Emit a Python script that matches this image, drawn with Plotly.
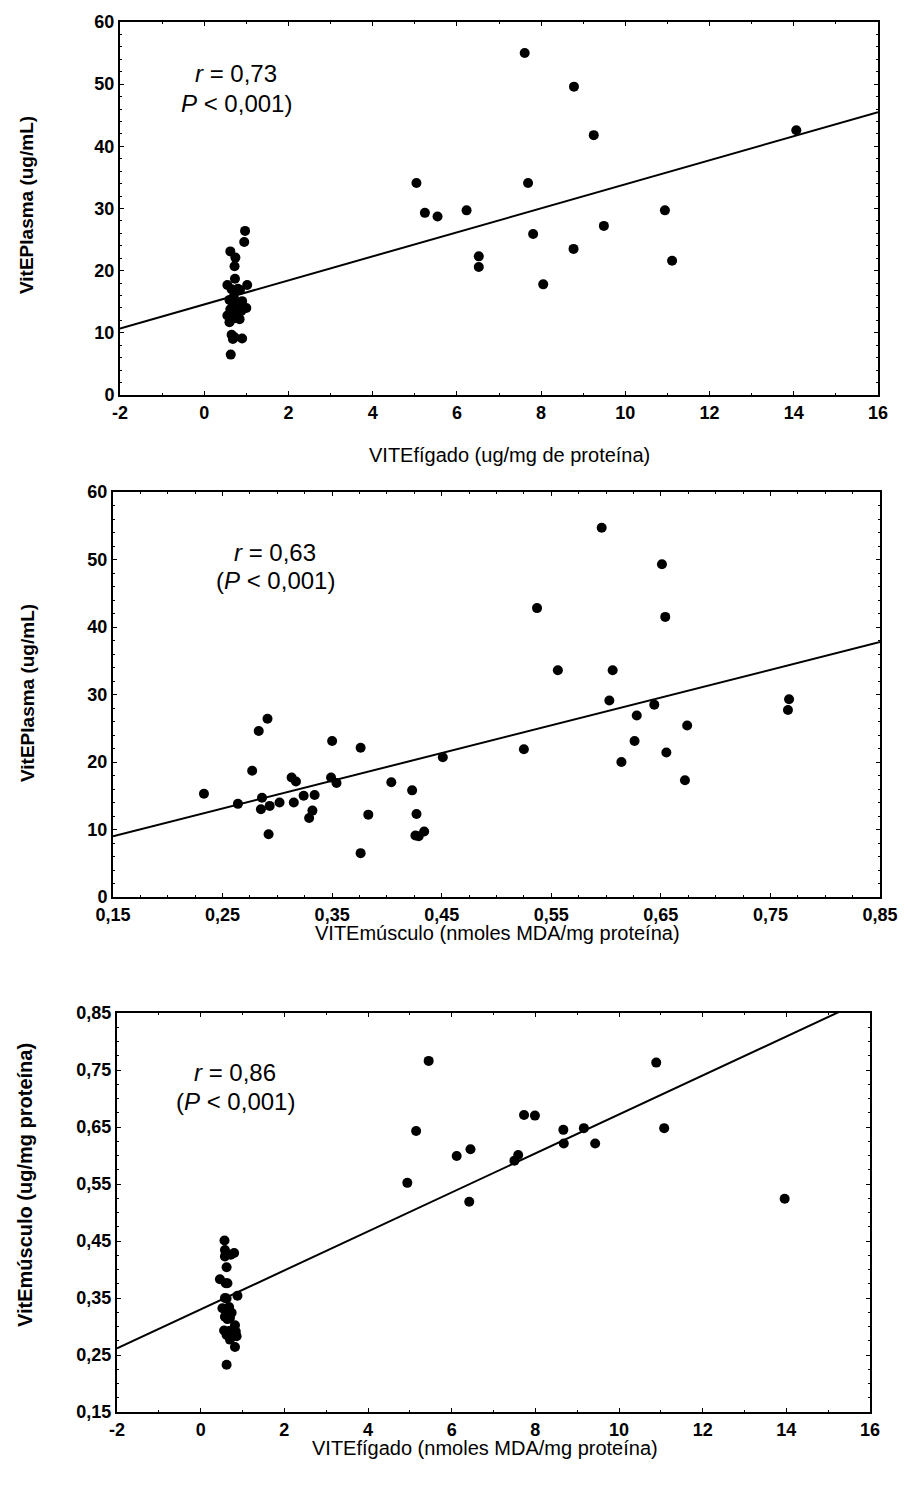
import plotly.graph_objects as go

W, H = 908, 1488
OFF = 8  # page body margin in the browser

# ---------- Panel 1: VITEfígado (ug/mg) vs VitEPlasma ----------
p1_x = [0.97, 0.95, 0.62, 0.74, 0.72, 0.73, 0.55, 1.02, 0.80, 0.65, 0.85, 0.70, 0.60, 0.90, 0.75,
        0.68, 0.82, 1.00, 0.62, 0.88, 0.78, 0.55, 0.70, 0.84, 0.60, 0.65, 0.72, 0.90, 0.68, 0.63,
        7.61, 8.78, 9.25, 5.04, 7.69, 5.24, 5.54, 6.23, 10.94, 7.81, 9.49, 6.52, 6.52, 8.77, 8.05, 11.11, 14.06]
p1_y = [26.4, 24.6, 23.1, 22.1, 20.7, 18.7, 17.7, 17.7, 17.1, 17.0, 16.9, 15.8, 15.3, 15.1, 15.0,
        14.7, 14.0, 14.0, 13.8, 13.5, 13.0, 12.8, 12.3, 12.2, 11.7, 9.7, 9.3, 9.1, 9.0, 6.5,
        55.0, 49.6, 41.8, 34.1, 34.1, 29.3, 28.7, 29.7, 29.7, 25.9, 27.2, 22.3, 20.6, 23.5, 17.8, 21.6, 42.6]
p1_fit = [14.57, 1.933]   # intercept, slope
p1_xrange = [-2, 16]
p1_yrange = [0, 60]
p1_xticks = [-2, 0, 2, 4, 6, 8, 10, 12, 14, 16]
p1_xlabels = ["-2", "0", "2", "4", "6", "8", "10", "12", "14", "16"]
p1_yticks = [0, 10, 20, 30, 40, 50, 60]
p1_ylabels = ["0", "10", "20", "30", "40", "50", "60"]

# ---------- Panel 2: VITEmúsculo vs VitEPlasma ----------
p2_x = [0.233, 0.291, 0.283, 0.277, 0.264, 0.286, 0.285, 0.293, 0.292, 0.302, 0.315, 0.313, 0.317, 0.324, 0.334,
        0.332, 0.329, 0.350, 0.349, 0.354, 0.376, 0.376, 0.383, 0.404, 0.423, 0.427, 0.426, 0.429, 0.434, 0.451,
        0.596, 0.651, 0.537, 0.654, 0.556, 0.606, 0.603, 0.644, 0.628, 0.674, 0.525, 0.626, 0.655, 0.614, 0.672, 0.767, 0.766]
p2_y = [15.3, 26.4, 24.6, 18.7, 13.8, 14.7, 13.0, 13.5, 9.3, 14.0, 14.0, 17.7, 17.1, 15.0, 15.1,
        12.8, 11.7, 23.1, 17.7, 16.9, 6.5, 22.1, 12.2, 17.0, 15.8, 12.3, 9.1, 9.0, 9.7, 20.7,
        54.7, 49.3, 42.8, 41.5, 33.6, 33.6, 29.1, 28.5, 26.9, 25.4, 21.9, 23.1, 21.4, 20.0, 17.3, 29.3, 27.7]
p2_fit = [2.83, 41.1]
p2_xrange = [0.15, 0.85]
p2_yrange = [0, 60]
p2_xticks = [0.15, 0.25, 0.35, 0.45, 0.55, 0.65, 0.75, 0.85]
p2_xlabels = ["0,15", "0,25", "0,35", "0,45", "0,55", "0,65", "0,75", "0,85"]
p2_yticks = [0, 10, 20, 30, 40, 50, 60]
p2_ylabels = ["0", "10", "20", "30", "40", "50", "60"]

# ---------- Panel 3: VITEfígado (nmoles) vs VitEmúsculo ----------
p3_x = [0.57, 0.58, 0.80, 0.62, 0.72, 0.58, 0.62, 0.46, 0.60, 0.64, 0.88, 0.58, 0.62, 0.68, 0.52,
        0.66, 0.74, 0.58, 0.70, 0.64, 0.82, 0.56, 0.68, 0.84, 0.76, 0.62, 0.86, 0.70, 0.82, 0.62,
        5.45, 10.89, 5.15, 11.08, 7.73, 7.99, 8.67, 9.16, 8.68, 9.43, 6.12, 6.45, 7.59, 7.50, 4.94, 6.42, 13.96]
p3_y = [0.451, 0.434, 0.429, 0.427, 0.426, 0.423, 0.404, 0.383, 0.376, 0.376, 0.354, 0.350, 0.349, 0.334, 0.332,
        0.329, 0.324, 0.317, 0.315, 0.313, 0.302, 0.293, 0.292, 0.291, 0.286, 0.285, 0.283, 0.277, 0.264, 0.233,
        0.766, 0.763, 0.643, 0.648, 0.671, 0.670, 0.645, 0.648, 0.621, 0.621, 0.599, 0.611, 0.601, 0.591, 0.552, 0.519, 0.524]
p3_fit = [0.330, 0.0342]
p3_xrange = [-2, 16]
p3_yrange = [0.15, 0.85]
p3_xticks = [-2, 0, 2, 4, 6, 8, 10, 12, 14, 16]
p3_xlabels = ["-2", "0", "2", "4", "6", "8", "10", "12", "14", "16"]
p3_yticks = [0.15, 0.25, 0.35, 0.45, 0.55, 0.65, 0.75, 0.85]
p3_ylabels = ["0,15", "0,25", "0,35", "0,45", "0,55", "0,65", "0,75", "0,85"]

# screen-pixel boxes of the three plot areas (left, right, top, bottom)
boxes = [(120, 878, 22, 395), (113, 880, 492, 897), (117, 870, 1013, 1412)]

panels = [
    dict(x=p1_x, y=p1_y, fit=p1_fit, xr=p1_xrange, yr=p1_yrange, xt=p1_xticks, xl=p1_xlabels,
         yt=p1_yticks, yl=p1_ylabels,
         xtitle="VITEfígado (ug/mg de proteína)", ytitle="VitEPlasma (ug/mL)",
         r="<i>r</i> = 0,73", p="<i>P</i> < 0,001)", ann_xy=(236, 74),
         xtitle_xy=(510, 455), ytitle_xy=(27, 205), ysize=19, xminor=1, yminor=2),
    dict(x=p2_x, y=p2_y, fit=p2_fit, xr=p2_xrange, yr=p2_yrange, xt=p2_xticks, xl=p2_xlabels,
         yt=p2_yticks, yl=p2_ylabels,
         xtitle="VITEmúsculo (nmoles MDA/mg proteína)", ytitle="VitEPlasma (ug/mL)",
         r="<i>r</i> = 0,63", p="(<i>P</i> < 0,001)", ann_xy=(275, 552),
         xtitle_xy=(497, 933), ytitle_xy=(27, 693), ysize=19, xminor=0.025, yminor=2),
    dict(x=p3_x, y=p3_y, fit=p3_fit, xr=p3_xrange, yr=p3_yrange, xt=p3_xticks, xl=p3_xlabels,
         yt=p3_yticks, yl=p3_ylabels,
         xtitle="VITEfígado (nmoles MDA/mg proteína)", ytitle="VitEmúsculo (ug/mg proteína)",
         r="<i>r</i> = 0,86", p="(<i>P</i> < 0,001)", ann_xy=(235, 1072),
         xtitle_xy=(485, 1448), ytitle_xy=(25, 1185), ysize=20, xminor=1, yminor=0.025),
]


def px(x):
    return (x - OFF) / W


def py(y):
    return 1 - (y - OFF) / H


fig = go.Figure()
annotations = []
FONT = "Liberation Sans, Arial, sans-serif"

for i, (pn, box) in enumerate(zip(panels, boxes), start=1):
    xa = "x" if i == 1 else f"x{i}"
    ya = "y" if i == 1 else f"y{i}"
    fig.add_trace(go.Scatter(x=pn["x"], y=pn["y"], mode="markers", xaxis=xa, yaxis=ya,
                             marker=dict(color="black", size=10), showlegend=False))
    lx = pn["xr"]
    ly = [pn["fit"][0] + pn["fit"][1] * v for v in lx]
    fig.add_trace(go.Scatter(x=lx, y=ly, mode="lines", xaxis=xa, yaxis=ya,
                             line=dict(color="black", width=2), showlegend=False))

    l, r, t, b = box
    axcommon = dict(showline=True, linecolor="black", linewidth=2, mirror="ticks",
                    ticks="inside", ticklen=4, tickwidth=1, tickcolor="black",
                    showgrid=False, zeroline=False, automargin=False,
                    tickfont=dict(family=FONT, size=18, color="black", weight="bold"))
    xkw = dict(axcommon, domain=[px(l), px(r)], range=pn["xr"], tickvals=pn["xt"], ticktext=pn["xl"],
               anchor=ya, minor=dict(ticks="inside", ticklen=2, dtick=pn["xminor"], tickcolor="black"))
    ykw = dict(axcommon, domain=[py(b), py(t)], range=pn["yr"], tickvals=pn["yt"], ticktext=pn["yl"],
               anchor=xa, minor=dict(ticks="inside", ticklen=2, dtick=pn["yminor"], tickcolor="black"))
    fig.update_layout(**{("xaxis" if i == 1 else f"xaxis{i}"): xkw,
                         ("yaxis" if i == 1 else f"yaxis{i}"): ykw})

    ax, ay = pn["ann_xy"]
    base = dict(xref="paper", yref="paper", showarrow=False, xanchor="center", yanchor="middle")
    annotations.append(dict(base, x=px(ax), y=py(ay), text=pn["r"],
                            font=dict(family=FONT, size=24, color="black")))
    annotations.append(dict(base, x=px(ax), y=py(ay + 29), text=pn["p"],
                            font=dict(family=FONT, size=24, color="black")))
    tx, ty = pn["xtitle_xy"]
    annotations.append(dict(base, x=px(tx), y=py(ty), text=pn["xtitle"],
                            font=dict(family=FONT, size=20, color="black")))
    yx, yy = pn["ytitle_xy"]
    annotations.append(dict(base, x=px(yx), y=py(yy), text="<b>" + pn["ytitle"] + "</b>", textangle=-90,
                            font=dict(family=FONT, size=pn["ysize"], color="black")))

fig.update_layout(width=W, height=H, margin=dict(l=0, r=0, t=0, b=0, autoexpand=False),
                  paper_bgcolor="white", plot_bgcolor="white",
                  separators=", ", annotations=annotations, showlegend=False)

fig.write_html("out.html")
